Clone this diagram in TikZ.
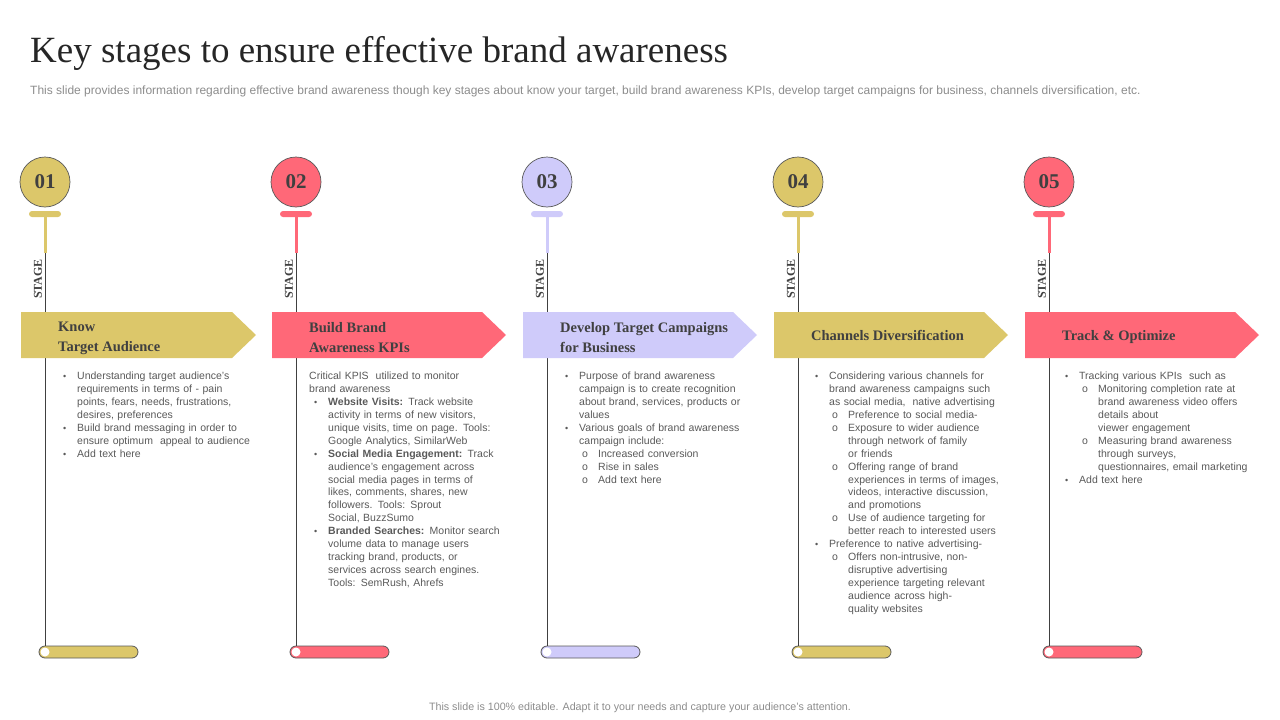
\documentclass[tikz,border=0pt]{standalone}
\usepackage{fontspec}
\setmainfont{Liberation Sans}
\newfontfamily\headfont{Liberation Serif}
\usepackage{xcolor}
\usepackage{tikz}
\usetikzlibrary{positioning}
\definecolor{gold}{HTML}{DCC76A}
\definecolor{rose}{HTML}{FF6878}
\definecolor{lilac}{HTML}{CFCBFA}
\definecolor{ink}{HTML}{404040}
\definecolor{mute}{HTML}{595959}
\definecolor{soft}{HTML}{8C8C8C}
\newcommand{\itm}[1]{\hangindent=14pt\hangafter=1\noindent\makebox[14pt][l]{\fontsize{9}{9}\selectfont\textbullet}#1\par}
\newcommand{\subitm}[1]{\hangindent=33pt\hangafter=1\noindent\hspace*{17pt}\makebox[16pt][l]{o}#1\par}

\begin{document}
\begin{tikzpicture}[x=1pt, y=-1pt,
    num/.style={circle, minimum size=50pt, draw=mute, line width=0.7pt, inner sep=0, text=ink,
        font=\headfont\bfseries\fontsize{21}{21}\selectfont},
    tbar/.style={rectangle, rounded corners=3pt, minimum width=32pt, minimum height=6pt, inner sep=0},
    stem/.style={line width=3pt},
    vline/.style={draw=ink, line width=0.8pt},
    pill/.style={rectangle, rounded corners=6pt, minimum width=99pt, minimum height=12pt, draw=mute, line width=0.8pt, inner sep=0},
    dot/.style={circle, fill=white, minimum size=9pt, inner sep=0},
    stage/.style={rotate=90, inner sep=0, text=ink, font=\headfont\bfseries\fontsize{12}{12}\selectfont},
    head/.style={anchor=west, align=left, inner sep=0, text=ink, font=\headfont\bfseries\fontsize{14.5}{20}\selectfont},
    body/.style={anchor=north west, text width=215pt, align=left, inner sep=0, text=mute, font=\fontsize{10.5}{12.9}\selectfont}]
    \useasboundingbox (0,0) rectangle (1280,720);

    % Title
    \node[anchor=base west, inner sep=0, text=black!85, font=\headfont\fontsize{37}{37}\selectfont] (title) at (30,62)
        {Key stages to ensure effective brand awareness};
    \node[anchor=base west, inner sep=0, text=soft, font=\fontsize{12}{14}\selectfont] (intro) at (30,94)
        {This slide provides information regarding effective brand awareness though key stages about know your target, build brand awareness KPIs, develop target campaigns for business, channels diversification, etc.};

    % Stage 01
    \node[num, fill=gold] (c1) at (45,182) {01};
    \node[pill, fill=gold] (p1) at (88.5,652) {};
    \coordinate (s1) at (45,253);
    \draw[vline] (s1) -- (s1 |- p1.north);
    \node[dot] (d1) at (45,652) {};
    \node[tbar, fill=gold] (t1) at (45,214) {};
    \draw[stem, gold] (t1.center) -- (s1);
    \node[stage] (g1) at (38,279) {STAGE};
    \fill[gold] (21,312) -- ++(211,0) -- ++(24,23) -- ++(-24,23) -- ++(-211,0) -- cycle;
    \node[head] (h1) at (58,338) {Know\\Target Audience};
    \node[body] (x1) at (63,372) {%
        \itm{Understanding target audience's\newline requirements in terms of - pain\newline points, fears, needs, frustrations,\newline desires, preferences}
        \itm{Build brand messaging in order to\newline ensure optimum\ \ appeal to audience}
        \itm{Add text here}};

    % Stage 02
    \node[num, fill=rose] (c2) at (296,182) {02};
    \node[pill, fill=rose] (p2) at (339.5,652) {};
    \coordinate (s2) at (296,253);
    \draw[vline] (s2) -- (s2 |- p2.north);
    \node[dot] (d2) at (296,652) {};
    \node[tbar, fill=rose] (t2) at (296,214) {};
    \draw[stem, rose] (t2.center) -- (s2);
    \node[stage] (g2) at (289,279) {STAGE};
    \fill[rose] (272,312) -- ++(210,0) -- ++(24,23) -- ++(-24,23) -- ++(-210,0) -- cycle;
    \node[head] (h2) at (309,338) {Build Brand\\Awareness KPIs};
    \node[body] (x2) at (314,372) {%
        {\leftskip=-5pt\noindent Critical KPIS\ \ utilized to monitor\newline brand awareness\par}
        \itm{\textbf{Website Visits:} Track website\newline activity in terms of new visitors,\newline unique visits, time on page. Tools:\newline Google Analytics, SimilarWeb}
        \itm{\textbf{Social Media Engagement:} Track\newline audience's engagement across\newline social media pages in terms of\newline likes, comments, shares, new\newline followers. Tools: Sprout\newline Social, BuzzSumo}
        \itm{\textbf{Branded Searches:} Monitor search\newline volume data to manage users\newline tracking brand, products, or\newline services across search engines.\newline Tools: SemRush, Ahrefs}};

    % Stage 03
    \node[num, fill=lilac] (c3) at (547,182) {03};
    \node[pill, fill=lilac] (p3) at (590.5,652) {};
    \coordinate (s3) at (547,253);
    \draw[vline] (s3) -- (s3 |- p3.north);
    \node[dot] (d3) at (547,652) {};
    \node[tbar, fill=lilac] (t3) at (547,214) {};
    \draw[stem, lilac] (t3.center) -- (s3);
    \node[stage] (g3) at (540,279) {STAGE};
    \fill[lilac] (523,312) -- ++(210,0) -- ++(24,23) -- ++(-24,23) -- ++(-210,0) -- cycle;
    \node[head] (h3) at (560,338) {Develop Target Campaigns\\for Business};
    \node[body] (x3) at (565,372) {%
        \itm{Purpose of brand awareness\newline campaign is to create recognition\newline about brand, services, products or\newline values}
        \itm{Various goals of brand awareness\newline campaign include:}
        \subitm{Increased conversion}
        \subitm{Rise in sales}
        \subitm{Add text here}};

    % Stage 04
    \node[num, fill=gold] (c4) at (798,182) {04};
    \node[pill, fill=gold] (p4) at (841.5,652) {};
    \coordinate (s4) at (798,253);
    \draw[vline] (s4) -- (s4 |- p4.north);
    \node[dot] (d4) at (798,652) {};
    \node[tbar, fill=gold] (t4) at (798,214) {};
    \draw[stem, gold] (t4.center) -- (s4);
    \node[stage] (g4) at (791,279) {STAGE};
    \fill[gold] (774,312) -- ++(210,0) -- ++(24,23) -- ++(-24,23) -- ++(-210,0) -- cycle;
    \node[head] (h4) at (811,335) {Channels Diversification};
    \node[body] (x4) at (815,372) {%
        \itm{Considering various channels for\newline brand awareness campaigns such\newline as social media,\ \ native advertising}
        \subitm{Preference to social media-}
        \subitm{Exposure to wider audience\newline through network of family\newline or friends}
        \subitm{Offering range of brand\newline experiences in terms of images,\newline videos, interactive discussion,\newline and promotions}
        \subitm{Use of audience targeting for\newline better reach to interested users}
        \itm{Preference to native advertising-}
        \subitm{Offers non-intrusive, non-\newline disruptive advertising\newline experience targeting relevant\newline audience across high-\newline quality websites}};

    % Stage 05
    \node[num, fill=rose] (c5) at (1049,182) {05};
    \node[pill, fill=rose] (p5) at (1092.5,652) {};
    \coordinate (s5) at (1049,253);
    \draw[vline] (s5) -- (s5 |- p5.north);
    \node[dot] (d5) at (1049,652) {};
    \node[tbar, fill=rose] (t5) at (1049,214) {};
    \draw[stem, rose] (t5.center) -- (s5);
    \node[stage] (g5) at (1042,279) {STAGE};
    \fill[rose] (1025,312) -- ++(210,0) -- ++(24,23) -- ++(-24,23) -- ++(-210,0) -- cycle;
    \node[head] (h5) at (1062,337) {Track \& Optimize};
    \node[body] (x5) at (1065,372) {%
        \itm{Tracking various KPIs\ \ such as}
        \subitm{Monitoring completion rate at\newline brand awareness video offers\newline details about\newline viewer engagement}
        \subitm{Measuring brand awareness\newline through surveys,\newline questionnaires, email marketing}
        \itm{Add text here}};

    % Footer
    \node[inner sep=0, text=soft, font=\fontsize{10.7}{12}\selectfont] (foot) at (640,708)
        {This slide is 100\% editable. Adapt it to your needs and capture your audience's attention.};
\end{tikzpicture}
\end{document}
